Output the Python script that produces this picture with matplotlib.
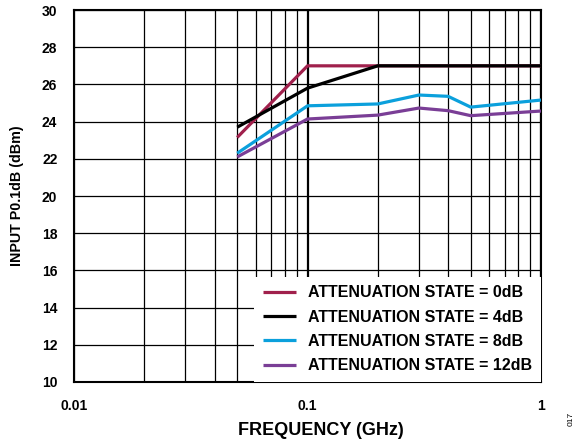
import matplotlib
matplotlib.use("Agg")
import matplotlib.pyplot as plt
from matplotlib.ticker import LogLocator, NullFormatter, FixedLocator

# frequency points (GHz)
freq = [0.05, 0.1, 0.2, 0.3, 0.4, 0.5, 1.0]
p01_0db = [23.15, 27.0, 27.0, 27.0, 27.0, 27.0, 27.0]
p01_4db = [23.7, 25.8, 27.0, 27.0, 27.0, 27.0, 27.0]
p01_8db = [22.3, 24.85, 24.95, 25.43, 25.36, 24.78, 25.16]
p01_12db = [22.1, 24.14, 24.35, 24.73, 24.59, 24.32, 24.57]

labels = ["ATTENUATION STATE = 0dB", "ATTENUATION STATE = 4dB",
          "ATTENUATION STATE = 8dB", "ATTENUATION STATE = 12dB"]
colors = ["#a0204c", "#000000", "#0ba0dc", "#7a3e96"]

plt.rcParams["font.family"] = ["Liberation Sans", "DejaVu Sans"]
plt.rcParams["font.weight"] = "bold"

fig = plt.figure(figsize=(5.86, 4.46), dpi=100)
ax = fig.add_axes([0.1263, 0.1435, 0.7969, 0.834])

for ys, c, lbl in zip([p01_0db, p01_4db, p01_8db, p01_12db], colors, labels):
    ax.plot(freq, ys, color=c, lw=2.3, label=lbl, solid_capstyle="butt", zorder=3)

ax.set_xscale("log")
ax.set_xlim(0.01, 1)
ax.set_ylim(10, 30)
ax.xaxis.set_major_locator(FixedLocator([0.01, 0.1, 1]))
ax.xaxis.set_major_formatter(plt.FixedFormatter(["0.01", "0.1", "1"]))
ax.xaxis.set_minor_locator(LogLocator(base=10, subs=range(2, 10)))
ax.xaxis.set_minor_formatter(NullFormatter())
ax.set_yticks(range(10, 31, 2))

ax.grid(True, which="major", axis="x", color="black", lw=1.6)
ax.grid(True, which="minor", axis="x", color="black", lw=0.9)
ax.grid(True, which="major", axis="y", color="black", lw=0.9)
ax.tick_params(which="both", length=0, labelsize=10, pad=12)
for s in ax.spines.values():
    s.set_linewidth(1.5)

ax.set_xlabel("FREQUENCY (GHz)", fontsize=13, fontweight="bold")
ax.xaxis.set_label_coords(0.529, -0.1075)
ax.set_ylabel("INPUT P0.1dB (dBm)", fontsize=10.3, fontweight="bold")
ax.yaxis.set_label_coords(-0.107, 0.501)

leg = ax.legend(loc="lower right", bbox_to_anchor=(1.0, 0.0), borderaxespad=0.0,
                frameon=True, fancybox=False, framealpha=1, edgecolor="none",
                facecolor="white", fontsize=11.5, handlelength=2.1,
                handletextpad=0.75, labelspacing=0.58, borderpad=0.55)
for t in leg.get_texts():
    t.set_fontweight("bold")
leg.set_zorder(5)

fig.text(0.975, 0.06, "017", rotation=90, fontsize=6, fontweight="normal",
         ha="center", va="center")

fig.savefig("out.png", dpi=100)
